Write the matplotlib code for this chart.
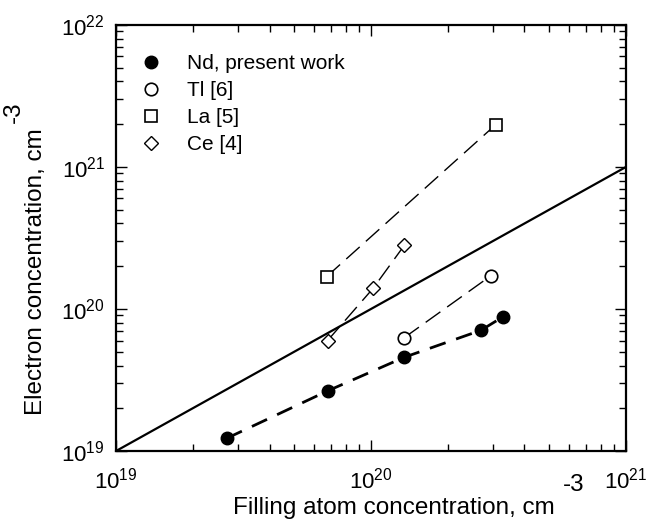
import matplotlib
matplotlib.use("Agg")
import matplotlib.pyplot as plt

plt.rcParams['font.family'] = ['Liberation Sans', 'DejaVu Sans']
plt.rcParams['mathtext.default'] = 'regular'

# filling atom concentration (cm^-3) vs electron concentration (cm^-3)
nd_x = [2.72e19, 6.76e19, 1.35e20, 2.70e20, 3.30e20]
nd_y = [1.23e19, 2.65e19, 4.57e19, 7.08e19, 8.83e19]

tl_x = [1.35e20, 2.96e20]
tl_y = [6.28e19, 1.72e20]

la_x = [6.70e19, 3.09e20]
la_y = [1.69e20, 1.99e21]

ce_x = [6.76e19, 1.02e20, 1.35e20]
ce_y = [6.0e19, 1.40e20, 2.80e20]

# one electron per filling atom
ref_x = [1e19, 1e21]
ref_y = [1e19, 1e21]

fig = plt.figure(figsize=(6.48, 5.30), dpi=100)
ax = fig.add_axes([0.179, 0.149, 0.787, 0.804])

ax.plot(ref_x, ref_y, color='black', lw=1.6, zorder=2)

ax.plot(nd_x, nd_y, color='black', lw=2.0, dashes=(6, 4), zorder=2)
ax.plot(tl_x, tl_y, color='black', lw=1.0, dashes=(13, 6), zorder=2)
ax.plot(la_x, la_y, color='black', lw=1.0, dashes=(13, 6), zorder=2)
ax.plot(ce_x, ce_y, color='black', lw=1.0, dashes=(13, 6), zorder=2)

ax.plot(nd_x, nd_y, 'o', ms=9, mfc='black', mec='black', ls='none',
        label='Nd, present work', zorder=3)
ax.plot(tl_x, tl_y, 'o', ms=9, mfc='white', mec='black', mew=1.2,
        ls='none', label='Tl [6]', zorder=3)
ax.plot(la_x, la_y, 's', ms=8, mfc='white', mec='black', mew=1.2,
        ls='none', label='La [5]', zorder=3)
ax.plot(ce_x, ce_y, 'D', ms=7.5, mfc='white', mec='black', mew=1.0,
        ls='none', label='Ce [4]', zorder=3)

ax.set_xscale('log')
ax.set_yscale('log')
ax.set_xlim(1e19, 1e21)
ax.set_ylim(1e19, 1e22)

ax.tick_params(which='both', direction='in', top=True, right=True,
               labelsize=16, width=1.0)
ax.tick_params(which='major', length=8)
ax.tick_params(which='minor', length=5)
ax.tick_params(axis='x', which='major', pad=12)
ax.tick_params(axis='y', which='major', pad=8)
for sp in ax.spines.values():
    sp.set_linewidth(1.6)

xl = ax.set_xlabel('Filling atom concentration, cm', fontsize=17.5)
yl = ax.set_ylabel('Electron concentration, cm', fontsize=17.5)
ax.xaxis.set_label_coords(0.545, -0.108)
ax.yaxis.set_label_coords(-0.135, 0.42)
ax.annotate('-3', xy=(1, 1), xycoords=xl, xytext=(6, 1),
            textcoords='offset points', fontsize=17.5, ha='left', va='bottom')
ax.annotate('-3', xy=(0, 1), xycoords=yl, xytext=(0, 4),
            textcoords='offset points', fontsize=17.5, ha='right', va='bottom',
            rotation=90)

leg = ax.legend(loc='upper left', bbox_to_anchor=(0.0, 0.975), frameon=False,
                fontsize=15, handletextpad=0.9, labelspacing=0.38,
                borderaxespad=0.5, handlelength=1.6)

fig.savefig('out.png', dpi=100)
